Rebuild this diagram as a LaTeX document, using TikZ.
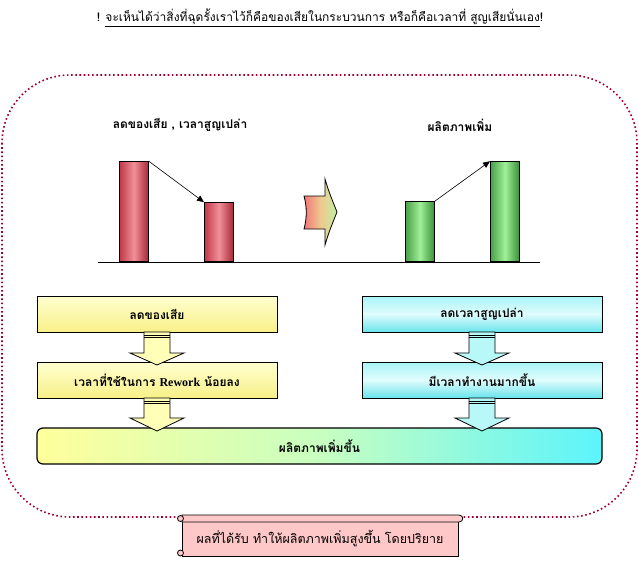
\documentclass[tikz,border=0pt]{standalone}
\usepackage{fontspec}
\newfontfamily\thai[Script=Thai]{Loma}
\newfontfamily\serifx{Liberation Serif}
\usetikzlibrary{arrows.meta,calc}
\definecolor{bordercol}{HTML}{A0002C}
\definecolor{redA}{HTML}{C03848}
\definecolor{redB}{HTML}{F09098}
\definecolor{redC}{HTML}{A82838}
\definecolor{grnA}{HTML}{48A048}
\definecolor{grnB}{HTML}{A0F098}
\definecolor{grnC}{HTML}{389038}
\definecolor{ylwT}{HTML}{FFFFD0}
\definecolor{ylwB}{HTML}{F8F088}
\definecolor{ylwF}{HTML}{FFFFB8}
\definecolor{cynT}{HTML}{A8F4F8}
\definecolor{cynM}{HTML}{E0FCFC}
\definecolor{cynB}{HTML}{68E4EC}
\definecolor{cynF}{HTML}{B8F8F8}
\definecolor{bigL}{HTML}{FFFF9C}
\definecolor{bigM}{HTML}{C8FFC0}
\definecolor{bigR}{HTML}{5CF4FC}
\definecolor{pinkF}{HTML}{FFC8C8}
\definecolor{arrL}{HTML}{F07878}
\definecolor{arrM}{HTML}{F0C890}
\definecolor{arrR}{HTML}{C0F0A0}
\newcommand\DArrow[5]{%
  \filldraw[fill=#5, line width=0.8pt] (#1-13,#2) -- (#1-13,#3) -- (#1-27,#3) -- (#1,#4) -- (#1+27,#3) -- (#1+13,#3) -- (#1+13,#2) -- cycle;
  \draw[line width=0.8pt] (#1-13,#2+3) -- (#1+13,#2+3);
  \draw[line width=0.8pt] (#1-13,#2+5.5) -- (#1+13,#2+5.5);
}
\begin{document}
\begin{tikzpicture}[x=1pt,y=-1pt, font=\thai,
  redbar/.style={draw=black,line width=0.8pt,left color=redA,right color=redC,middle color=redB,minimum width=29pt,inner sep=0pt,anchor=south west},
  grnbar/.style={draw=black,line width=0.8pt,left color=grnA,right color=grnC,middle color=grnB,minimum width=29pt,inner sep=0pt,anchor=south west},
  ybox/.style={draw=black,line width=0.8pt,top color=ylwT,bottom color=ylwB,minimum width=240pt,minimum height=36pt,inner sep=0pt,font=\thai\fontsize{12}{14}\selectfont\bfseries},
  cbox/.style={draw=black,line width=0.8pt,top color=cynT,bottom color=cynB,middle color=cynM,minimum width=240pt,minimum height=36pt,inner sep=0pt,font=\thai\fontsize{12}{14}\selectfont\bfseries},
  lbl/.style={font=\thai\fontsize{12}{14}\selectfont\bfseries},
  ptr/.style={-{Triangle[length=7pt,width=6pt]},line width=0.6pt}
]
\useasboundingbox (0,0) rectangle (639,565);

% title
\node (title) at (320,18) {\fontsize{12}{14}\selectfont {\bfseries !} \underline{จะเห็นได้ว่าสิ่งที่ฉุดรั้งเราไว้ก็คือของเสียในกระบวนการ หรือก็คือเวลาที่ สูญเสียนั่นเอง}{\bfseries !}};

% dotted frame
\draw[bordercol, line width=1.6pt, dash pattern=on 1.6pt off 2.6pt, rounded corners=68pt] (2,75) rectangle (637,517);

% chart labels
\node[lbl] (l1) at (180,125) {ลดของเสีย , เวลาสูญเปล่า};
\node[lbl] (l2) at (460,125) {ผลิตภาพเพิ่ม};

% baseline
\coordinate (base0) at (98,262);
\coordinate (base1) at (540,262);
\draw[line width=0.8pt] (base0) -- (base1);

% bars
\node[redbar, minimum height=100pt] (b1) at (119,262) {};
\node[redbar, minimum height=59pt] (b2) at (204,262) {};
\node[grnbar, minimum height=60pt] (g1) at (405,262) {};
\node[grnbar, minimum height=100pt] (g2) at (490,262) {};
\draw[ptr] (b1.north east) -- (b2.north west);
\draw[ptr] (g1.north east) -- (g2.north west);

% middle block arrow
\shade[left color=arrL, right color=arrR, middle color=arrM]
  (304,196) .. controls (307,207) and (307,218) .. (304,229) -- (325,229) -- (325,245)
  .. controls (329,232) .. (337,212) .. controls (329,192) .. (325,179) -- (325,196) -- cycle;
\draw[line width=0.8pt]
  (304,196) .. controls (307,207) and (307,218) .. (304,229) -- (325,229) -- (325,245)
  .. controls (329,232) .. (337,212) .. controls (329,192) .. (325,179) -- (325,196) -- cycle;

% boxes
\node[ybox] (y1) at (157,314) {ลดของเสีย};
\node[ybox] (y2) at (157,380) {เวลาที่ใช้ในการ {\serifx\bfseries Rework} น้อยลง};
\node[cbox] (c1) at (482,314) {ลดเวลาสูญเปล่า};
\node[cbox] (c2) at (482,380) {มีเวลาทำงานมากขึ้น};
\foreach \b in {y1,y2,c1,c2}
  \draw[line width=1.6pt] (\b.north east) -- (\b.south east) -- (\b.south west);

\node[draw=black, line width=1.2pt, rounded corners=6pt, left color=bigL, right color=bigR, middle color=bigM,
  minimum width=565pt, minimum height=36pt, inner sep=0pt, font=\thai\fontsize{12}{14}\selectfont\bfseries] (big) at (319.5,446) {ผลิตภาพเพิ่มขึ้น};

% down arrows
\DArrow{157}{332}{353}{365}{ylwF}
\DArrow{157}{398}{418}{431}{ylwF}
\DArrow{482}{332}{353}{365}{cynF}
\DArrow{482}{398}{418}{431}{cynF}

% scroll
\filldraw[fill=pinkF, line width=0.8pt] (182,520) rectangle (458,556);
\filldraw[fill=pinkF, line width=0.8pt] (182,515) -- (459,515) .. controls (464,515) and (464,522) .. (459,522) -- (182,522) -- cycle;
\filldraw[fill=pinkF, line width=0.8pt] (180.5,518.5) circle (3);
\filldraw[fill=pinkF, line width=0.8pt] (180.5,553) circle (3);
\node (res) at (320,538) {\fontsize{12.5}{14}\selectfont ผลที่ได้รับ ทำให้ผลิตภาพเพิ่มสูงขึ้น โดยปริยาย};
\end{tikzpicture}
\end{document}
